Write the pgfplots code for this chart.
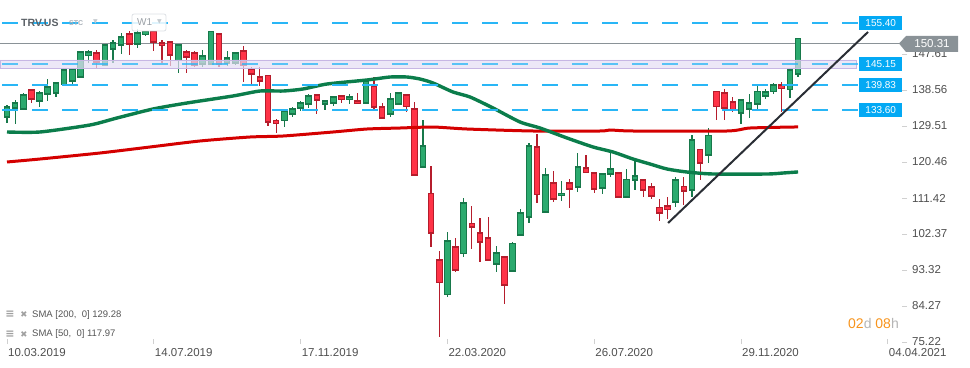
\documentclass[border=0pt]{standalone}
\usepackage{fontspec}
\setmainfont{Liberation Sans}
\newfontfamily\dejavu{DejaVu Sans}
\usepackage{pgfplots}
\pgfplotsset{compat=1.18}
\usepackage{pgfplotstable}

\definecolor{gfill}{HTML}{2BAA6E}
\definecolor{gline}{HTML}{17784A}
\definecolor{rfill}{HTML}{FF3347}
\definecolor{rline}{HTML}{B51D2C}
\definecolor{smag}{HTML}{0B7D4B}
\definecolor{smar}{HTML}{D40000}
\definecolor{lvl}{HTML}{29B6F6}
\definecolor{boxblue}{HTML}{03A9F4}
\definecolor{band}{HTML}{E4DDF4}
\definecolor{bandline}{HTML}{C6B6E4}
\definecolor{pricegray}{HTML}{8A9297}
\definecolor{labgray}{HTML}{4F4F4F}
\definecolor{tickgray}{HTML}{D0D0D0}
\definecolor{trend}{HTML}{2A2E35}
\definecolor{orng}{HTML}{F7941D}
\definecolor{hdr}{HTML}{5A6066}
\definecolor{stc}{HTML}{A8B0B8}
\definecolor{tri}{HTML}{C5CBD0}
\definecolor{wbox}{HTML}{DDE1E5}
\definecolor{wtxt}{HTML}{9AA0A6}
\definecolor{legicon}{HTML}{A0A0A0}
\definecolor{legtxt}{HTML}{555555}
\definecolor{cdgray}{HTML}{B5B5B5}

\pgfplotstableread{
i o h l c
0 131.78 134.80 130.27 134.29
1 134.04 136.05 130.02 135.30
2 133.79 137.81 133.54 137.31
4 135.80 138.31 134.29 137.81
5 137.56 141.33 135.80 139.32
6 137.81 140.58 136.81 140.33
7 140.07 143.84 139.82 143.59
8 140.83 144.10 140.07 143.84
9 141.83 148.12 141.58 148.12
10 147.36 148.62 145.35 148.12
12 144.85 149.88 144.85 149.88
13 148.87 151.13 145.35 150.38
14 149.88 152.89 147.62 151.89
16 150.13 153.90 149.12 152.89
17 152.64 153.40 152.14 153.15
21 145.86 150.13 142.84 149.88
24 145.10 148.62 144.35 147.11
25 145.10 153.40 145.10 153.15
27 145.35 148.37 144.60 146.61
28 145.35 148.12 144.85 147.87
34 131.02 133.79 129.26 133.29
35 132.53 134.29 131.78 133.79
36 134.04 135.80 133.29 135.30
37 135.05 137.56 134.04 137.06
39 135.05 136.05 133.54 135.80
40 135.30 137.06 134.54 136.81
42 136.30 137.56 135.05 136.81
44 135.30 141.33 135.30 140.83
47 132.53 137.81 131.78 136.30
48 135.05 138.06 134.80 137.81
51 119.21 131.02 118.96 124.49
54 87.28 102.87 86.53 100.61
56 97.59 111.42 96.59 110.16
60 94.83 99.35 92.81 97.59
62 93.07 100.36 93.07 100.10
63 102.12 108.65 102.12 107.65
64 106.64 125.24 105.13 124.49
66 107.90 118.96 107.90 117.20
68 112.17 115.69 110.66 112.67
70 114.18 122.73 112.93 119.21
73 113.93 117.45 112.42 117.45
74 117.45 122.98 116.70 118.71
76 111.67 118.71 111.42 116.19
77 115.94 120.97 113.43 116.95
82 110.41 116.70 109.15 115.94
84 113.43 127.25 111.67 126.00
86 122.23 129.01 120.22 127.25
90 132.78 136.05 130.02 136.05
91 133.79 137.56 131.53 135.30
92 135.05 139.57 133.54 138.31
93 137.06 138.82 136.30 138.06
94 138.31 140.33 137.56 139.82
96 138.57 143.84 136.55 143.59
97 142.59 151.39 141.83 151.39
}\greendata

\pgfplotstableread{
i o h l c
3 138.57 138.82 135.30 136.30
11 147.87 148.62 143.84 145.60
15 152.64 153.40 147.36 150.13
18 153.15 153.40 148.37 150.63
19 150.38 151.13 145.35 149.63
20 150.63 150.88 144.60 147.36
22 148.12 148.62 142.84 146.86
23 147.87 148.37 144.35 144.85
26 152.64 152.64 144.35 145.10
29 148.37 149.63 140.58 144.85
30 143.84 144.35 139.82 142.59
31 141.83 144.35 139.57 140.83
32 142.09 142.09 129.52 130.52
33 131.02 131.28 127.76 130.27
38 137.31 137.31 132.53 136.05
41 137.06 137.06 135.30 136.30
43 135.80 137.81 135.30 135.30
45 139.57 141.83 133.54 134.29
46 134.29 135.30 131.53 131.53
49 137.31 137.56 133.04 134.54
50 133.79 135.55 117.20 117.20
52 112.67 119.46 99.10 102.62
53 95.83 98.09 76.47 90.30
55 99.10 101.36 92.81 93.32
57 105.13 109.41 98.60 104.13
58 102.62 106.39 95.33 100.36
59 101.36 106.64 95.83 95.83
61 96.59 96.59 84.77 89.55
65 124.24 127.51 110.16 112.42
67 115.19 118.20 110.41 111.17
69 115.19 116.19 108.90 113.68
71 118.96 122.23 117.70 117.95
72 117.70 117.70 112.67 113.68
75 117.70 117.70 111.67 111.67
78 115.94 116.19 111.67 113.43
79 114.18 115.19 111.17 111.92
80 109.15 111.17 105.64 107.65
81 109.41 111.67 106.14 108.65
83 114.43 116.70 109.66 113.18
85 123.73 123.73 115.94 120.22
87 138.31 138.31 131.02 134.54
88 137.81 138.82 131.02 134.04
89 135.55 136.81 133.04 133.54
95 139.82 140.58 133.04 139.07
}\reddata

\pgfplotsset{
  wick/.style={draw=none, mark=none, forget plot,
    error bars/.cd, y dir=both, y explicit, error mark=none,
    error bar style={line width=1.2bp, draw=#1}},
  bodyout/.style={draw=none, mark=none, forget plot,
    error bars/.cd, y dir=both, y explicit, error mark=none,
    error bar style={line width=6.6bp, draw=#1}},
  bodyin/.style={draw=none, mark=none, forget plot,
    error bars/.cd, y dir=both, y explicit, error mark=none,
    error bar style={line width=4.6bp, draw=#1}},
  level/.style={draw=lvl, line width=1.4bp, dash pattern=on 16bp off 14bp, dash phase=28bp, forget plot, mark=none},
}

\newcommand{\candles}[3]{%
  \addplot[wick=#2] table[x=i, y expr={(\thisrow{h}+\thisrow{l})/2}, y error expr={(\thisrow{h}-\thisrow{l})/2}] {#1};
  \addplot[bodyout=#2] table[x=i, y expr={(\thisrow{o}+\thisrow{c})/2}, y error expr={abs(\thisrow{c}-\thisrow{o})/2+0.13}] {#1};
  \addplot[bodyin=#3] table[x=i, y expr={(\thisrow{o}+\thisrow{c})/2}, y error expr={max(abs(\thisrow{c}-\thisrow{o})/2-0.13,0.03)}] {#1};
}

\begin{document}
\begin{tikzpicture}
\path[use as bounding box] (0bp,0bp) rectangle (970bp,368bp);
\begin{axis}[
  at={(0bp,24bp)}, anchor=south west,
  scale only axis, width=907bp, height=344bp,
  xmin=-0.858, xmax=110.36, ymin=74.72, ymax=161.19,
  clip=false,
  axis line style={draw=none},
  xtick={0,18,36,54,72,90,108},
  xticklabels={10.03.2019,14.07.2019,17.11.2019,22.03.2020,26.07.2020,29.11.2020,04.04.2021},
  ytick={75.22,84.27,93.32,102.37,111.42,120.46,129.51,138.56,147.61},
  yticklabels={75.22,84.27,93.32,102.37,111.42,120.46,129.51,138.56,147.61},
  xtick pos=bottom, ytick pos=right, yticklabel pos=right,
  tick align=inside, major tick length=5bp,
  tick style={draw=tickgray, line width=0.8bp},
  xticklabel style={anchor=north west, inner sep=0pt, xshift=1bp, yshift=-4bp,
    font=\fontsize{11.5bp}{13bp}\selectfont, text=labgray},
  yticklabel style={anchor=west, inner sep=0pt, xshift=5bp,
    font=\fontsize{11.5bp}{13bp}\selectfont, text=labgray},
]
% current price line
\addplot[pricegray, line width=1.3bp, forget plot] coordinates {(-0.858,150.31) (109.38,150.31)};

% candles
\candles{\greendata}{gline}{gfill}
\candles{\reddata}{rline}{rfill}

% SMA 200
\addplot[smar, line width=3bp, smooth, tension=0.4, forget plot] coordinates {
(0,120.47) (4.05,121.22) (11.40,122.73) (17.54,124.24) (23.67,125.75) (29.80,126.75)
(33.84,127.00) (39.98,128.01) (44.14,128.76) (48.19,129.01) (52.24,129.26) (56.41,128.76)
(64.50,128.26) (72.72,128.26) (73.94,128.51) (76.76,128.26) (88.29,128.26) (91.11,129.01) (97,129.28)};
% SMA 50
\addplot[smag, line width=3.4bp, smooth, tension=0.4, forget plot] coordinates {
(0,128.01) (4.05,128.01) (10.18,129.77) (13.49,131.53) (17.90,133.79) (22.07,135.30)
(27.71,137.06) (31.02,138.31) (33.84,138.31) (36.30,138.82) (39.24,140.07) (44.14,141.08)
(46.97,141.83) (49.05,141.83) (50.64,141.33) (52.24,140.33) (54.69,138.06) (56.77,136.81)
(59.60,134.04) (62.91,130.52) (65.36,129.01) (68.67,126.50) (71.86,124.24) (74.31,122.98)
(76.76,121.22) (78.85,119.96) (80.93,118.71) (83.38,117.95) (86.57,117.45) (93.19,117.45)
(95.16,117.70) (97,117.97)};

% zone band
\addplot[fill=band, fill opacity=0.7, draw=bandline, line width=0.9bp, forget plot] coordinates {
(-0.858,144.02) (104.1,144.02) (104.1,146.11) (-0.858,146.11) (-0.858,144.02)};

% level lines
\addplot[level] coordinates {(-0.858,155.40) (104.29,155.40)};
\addplot[level, draw opacity=0.75] coordinates {(-0.858,145.15) (104.29,145.15)};
\addplot[level] coordinates {(-0.858,139.83) (104.29,139.83)};
\addplot[level, line width=1.5bp] coordinates {(-0.858,133.60) (104.29,133.60)};

% trend line
\addplot[trend, line width=2bp, forget plot] coordinates {(81.06,105.13) (105.58,153.15)};

% level labels
\pgfplotsinvokeforeach{155.40,145.15,139.83,133.60}{
  \node[fill=boxblue, text=white, minimum width=43bp, minimum height=13.5bp, inner sep=0pt,
    anchor=west, font=\fontsize{10bp}{11bp}\selectfont] at (axis cs:104.48,#1) {#1};
}
\end{axis}

% current price marker
\fill[pricegray] (899bp,324.5bp) -- (906bp,332bp) -- (958bp,332bp) -- (958bp,316bp) -- (906bp,316bp) -- cycle;
\node[text=white, inner sep=0pt, font=\fontsize{11.5bp}{13bp}\selectfont] at (932bp,324.5bp) {150.31};

% header
\node[anchor=west, inner sep=0pt, text=hdr, font=\bfseries\fontsize{10.5bp}{12bp}\selectfont] at (21bp,345bp) {TRV.US};
\node[anchor=west, inner sep=0pt, text=stc, font=\bfseries\fontsize{7bp}{8bp}\selectfont] at (69bp,344.5bp) {STC};
\node[inner sep=0pt, text=tri, font=\dejavu\fontsize{6bp}{7bp}\selectfont] at (95.5bp,346bp) {▼};
\filldraw[fill=white, fill opacity=0.85, draw=wbox, line width=0.8bp, rounded corners=2bp] (132bp,337bp) rectangle (166bp,354bp);
\node[anchor=west, inner sep=0pt, text=wtxt, font=\fontsize{10bp}{11bp}\selectfont] at (137bp,345.5bp) {W1};
\node[inner sep=0pt, text=tri, font=\dejavu\fontsize{6bp}{7bp}\selectfont] at (159.5bp,346bp) {▼};

% legend
\node[inner sep=0pt, text=legicon, font=\dejavu\bfseries\fontsize{11bp}{12bp}\selectfont] at (10bp,53.5bp) {≡};
\node[inner sep=0pt, text=legicon, font=\dejavu\fontsize{8.5bp}{9bp}\selectfont] at (24bp,53bp) {✖};
\node[anchor=west, inner sep=0pt, text=legtxt, font=\fontsize{9.5bp}{11bp}\selectfont] at (32bp,53bp) {SMA [200,\ \ 0] 129.28};
\node[inner sep=0pt, text=legicon, font=\dejavu\bfseries\fontsize{11bp}{12bp}\selectfont] at (10bp,34bp) {≡};
\node[inner sep=0pt, text=legicon, font=\dejavu\fontsize{8.5bp}{9bp}\selectfont] at (24bp,33.5bp) {✖};
\node[anchor=west, inner sep=0pt, text=legtxt, font=\fontsize{9.5bp}{11bp}\selectfont] at (32bp,33.5bp) {SMA [50,\ \ 0] 117.97};

% countdown
\node[anchor=west, inner sep=0pt, font=\fontsize{14bp}{16bp}\selectfont] at (848bp,45bp)
  {\textcolor{orng}{02}\textcolor{cdgray}{d} \textcolor{orng}{08}\textcolor{cdgray}{h}};
\end{tikzpicture}
\end{document}
